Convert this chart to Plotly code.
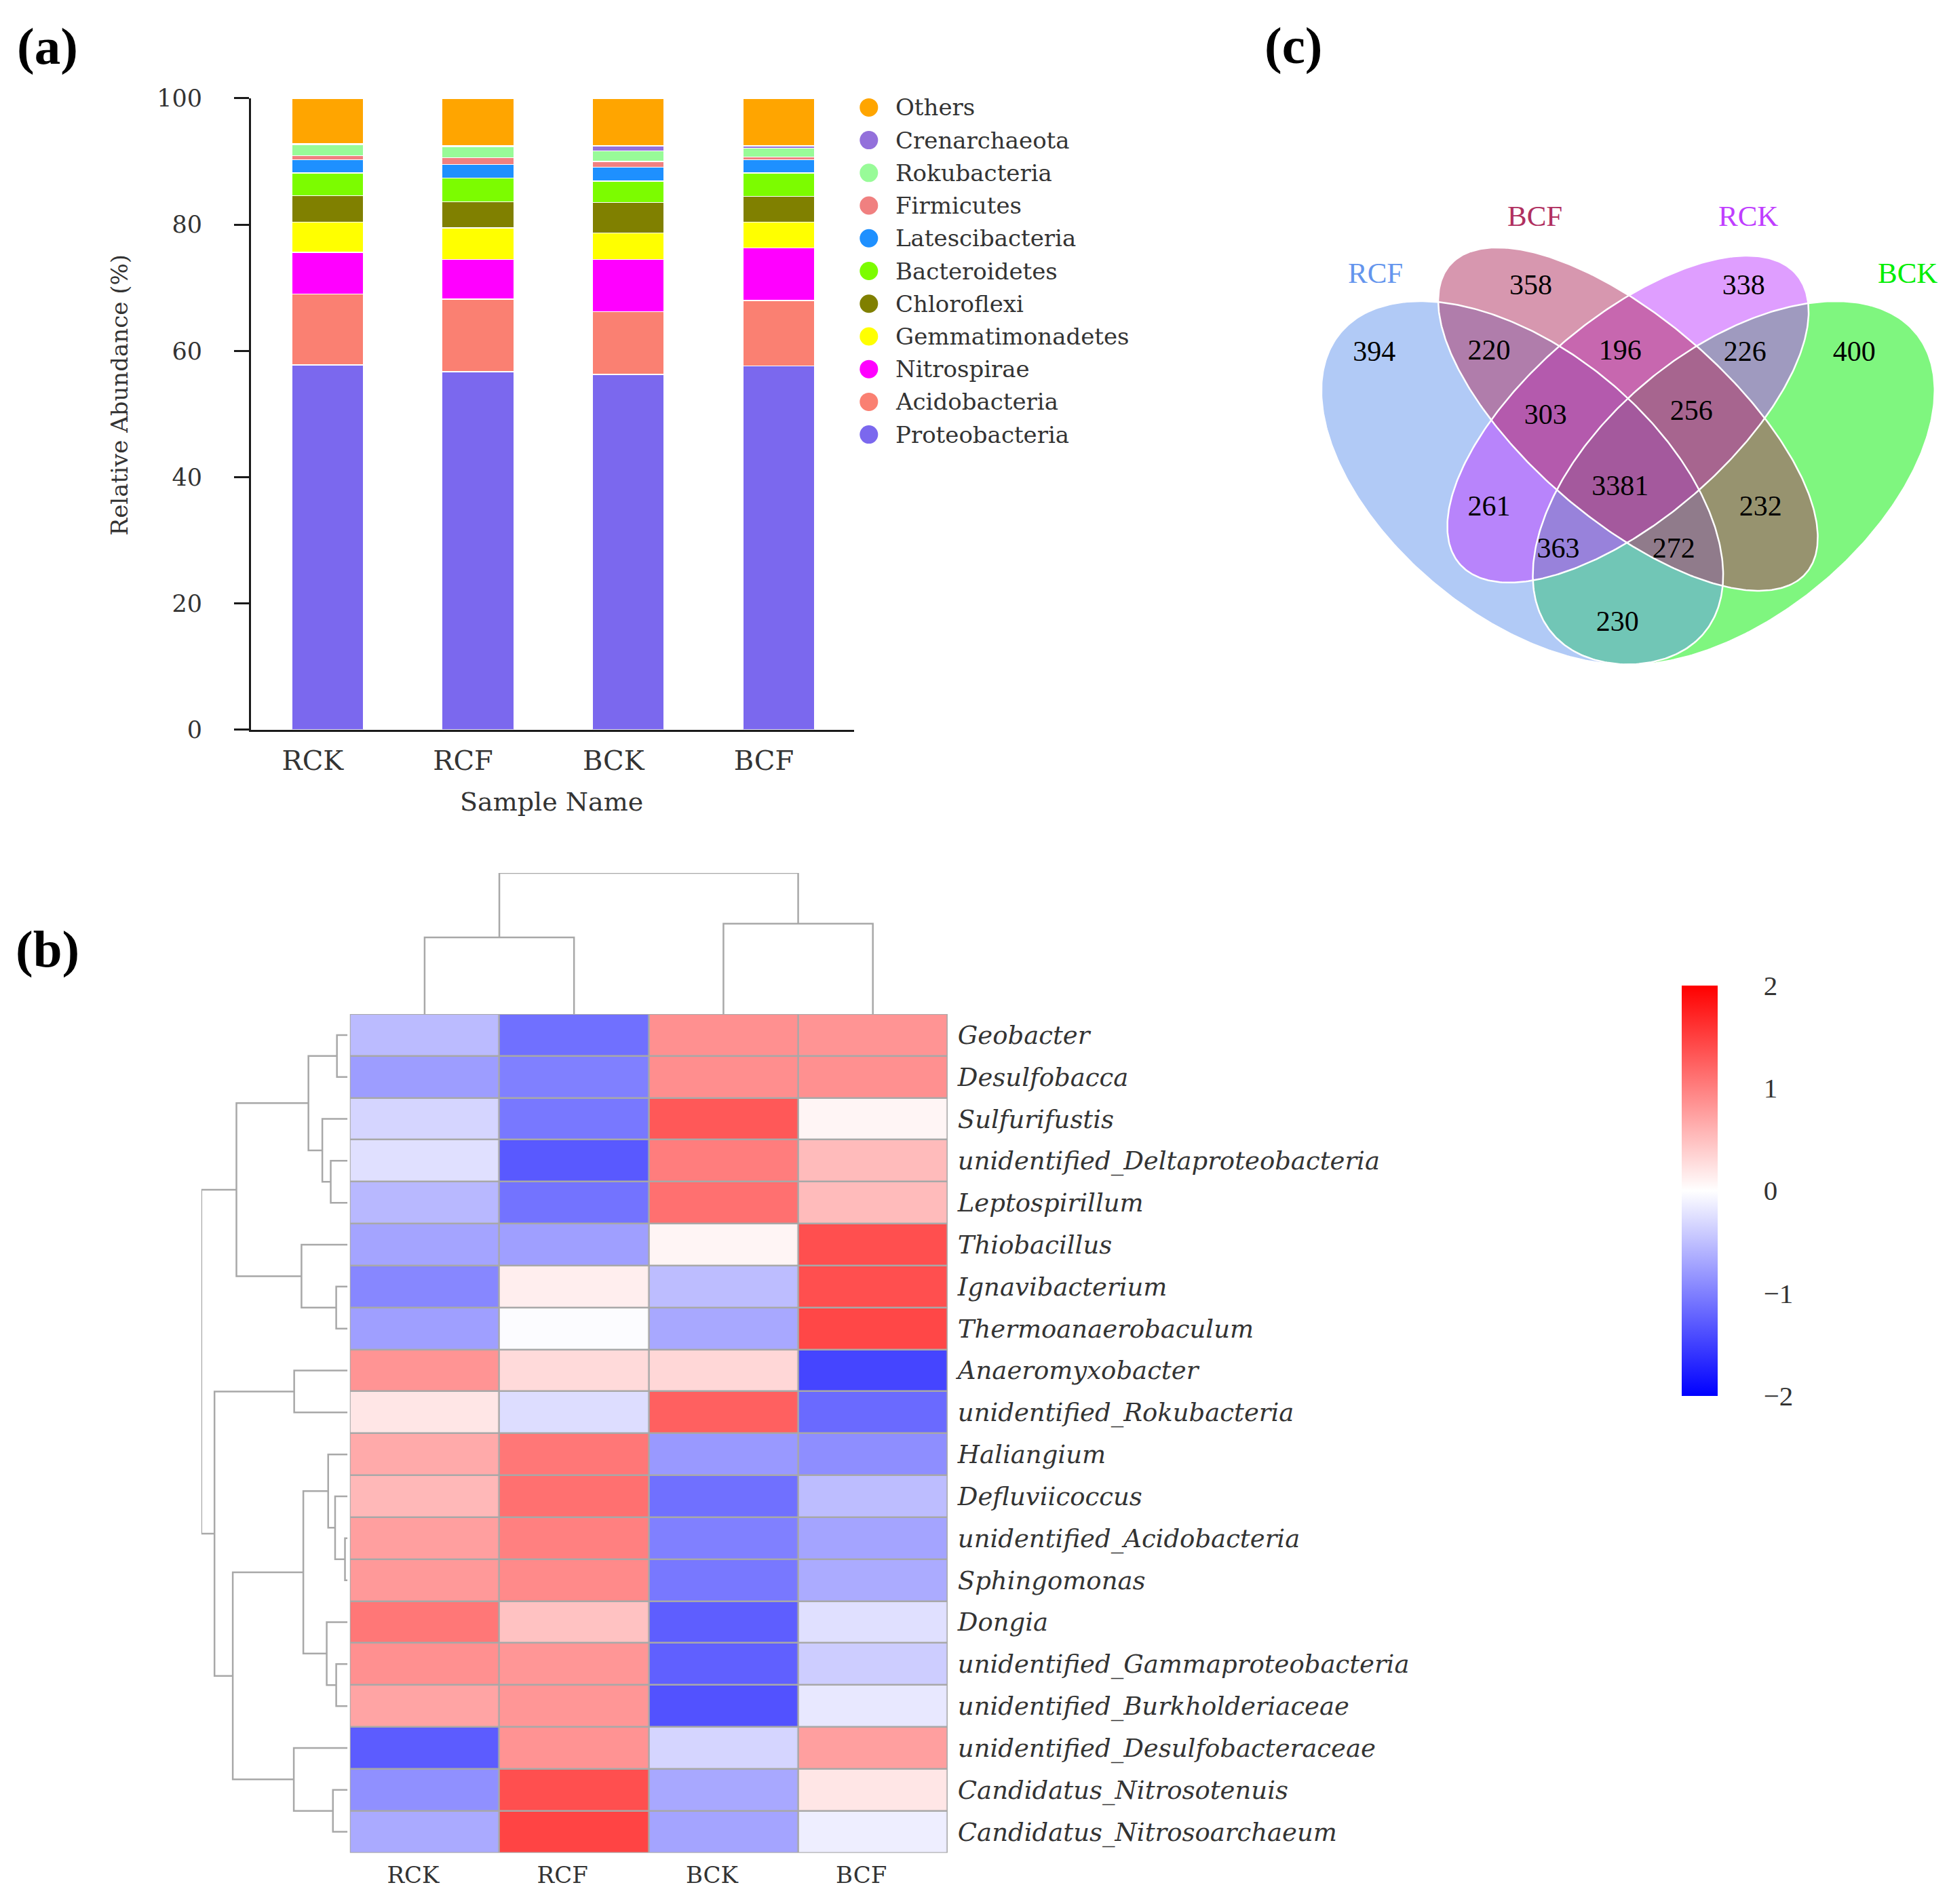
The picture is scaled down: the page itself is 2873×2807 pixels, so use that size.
import numpy as np
import plotly.graph_objects as go

W, H = 2873, 2807


# page-placement compensation (page offset / capture scale measured from round 1)
def px(x):
    return (x - 7.2) / W


def py(y):
    return 1 - (1.0149 * y - 30.1) / H


# ---------------- data: (a) stacked bars ----------------
samples = ["RCK", "RCF", "BCK", "BCF"]
phyla = ["Proteobacteria", "Acidobacteria", "Nitrospirae", "Gemmatimonadetes",
         "Chloroflexi", "Bacteroidetes", "Latescibacteria", "Firmicutes",
         "Rokubacteria", "Crenarchaeota", "Others"]
phylum_colors = ["#7B68EE", "#FA8072", "#FF00FF", "#FFFF00", "#808000", "#7CFC00",
                 "#1E90FF", "#F08080", "#98FB98", "#9370DB", "#FFA500"]
proteobacteria = [57.8, 56.7, 56.3, 57.6]
acidobacteria = [11.2, 11.5, 9.9, 10.4]
nitrospirae = [6.6, 6.3, 8.3, 8.3]
gemmatimonadetes = [4.8, 5.0, 4.2, 4.1]
chloroflexi = [4.2, 4.1, 4.8, 4.1]
bacteroidetes = [3.6, 3.8, 3.4, 3.7]
latescibacteria = [2.1, 2.1, 2.2, 2.1]
firmicutes = [0.6, 1.1, 0.9, 0.4]
rokubacteria = [1.8, 1.7, 1.7, 1.4]
crenarchaeota = [0.1, 0.2, 0.8, 0.4]
others = [7.2, 7.5, 7.5, 7.5]
abundance = [proteobacteria, acidobacteria, nitrospirae, gemmatimonadetes, chloroflexi,
             bacteroidetes, latescibacteria, firmicutes, rokubacteria, crenarchaeota, others]
y_ticks = [0, 20, 40, 60, 80, 100]

# ---------------- data: (b) heatmap ----------------
genera = ["Geobacter", "Desulfobacca", "Sulfurifustis", "unidentified_Deltaproteobacteria",
          "Leptospirillum", "Thiobacillus", "Ignavibacterium", "Thermoanaerobaculum",
          "Anaeromyxobacter", "unidentified_Rokubacteria", "Haliangium", "Defluviicoccus",
          "unidentified_Acidobacteria", "Sphingomonas", "Dongia",
          "unidentified_Gammaproteobacteria", "unidentified_Burkholderiaceae",
          "unidentified_Desulfobacteraceae", "Candidatus_Nitrosotenuis",
          "Candidatus_Nitrosoarchaeum"]
z_RCK = [-0.53, -0.77, -0.33, -0.24, -0.56, -0.71, -0.94, -0.75, 0.84, 0.20,
         0.67, 0.56, 0.75, 0.80, 1.07, 0.87, 0.71, -1.28, -0.87, -0.67]
z_RCF = [-1.12, -1.00, -1.06, -1.30, -1.10, -0.75, 0.13, -0.02, 0.29, -0.27,
         1.07, 1.12, 1.00, 0.92, 0.48, 0.82, 0.82, 0.85, 1.38, 1.47]
z_BCK = [0.87, 0.89, 1.31, 1.02, 1.12, 0.08, -0.52, -0.68, 0.31, 1.25,
         -0.80, -1.12, -1.00, -1.06, -1.26, -1.25, -1.36, -0.33, -0.68, -0.71]
z_BCF = [0.84, 0.87, 0.08, 0.53, 0.53, 1.38, 1.38, 1.44, -1.46, -1.17,
         -0.89, -0.52, -0.71, -0.66, -0.24, -0.39, -0.18, 0.75, 0.20, -0.13]
colorbar_ticks = [-2, -1, 0, 1, 2]

# hierarchical clustering merges (child a, child b, height); ids >= n are earlier merges
row_merges = [(0, 1, 0.29), (3, 4, 0.46), (2, 21, 0.69), (20, 22, 1.07),
              (6, 7, 0.31), (5, 24, 1.26), (23, 25, 3.04), (8, 9, 1.46),
              (12, 13, 0.07), (11, 28, 0.34), (10, 29, 0.53), (15, 16, 0.31),
              (14, 31, 0.57), (30, 32, 1.21), (18, 19, 0.40), (17, 34, 1.47),
              (33, 35, 3.14), (27, 36, 3.64), (26, 37, 4.00)]
col_merges = [(0, 1, 2.17), (2, 3, 2.56), (4, 5, 4.00)]

# ---------------- data: (c) Venn ----------------
venn_sets = ["RCF", "BCF", "RCK", "BCK"]
venn_set_colors = ["#6495ED", "#B03060", "#BF3EFF", "#00EE00"]
venn_regions = ["RCF", "BCF", "RCK", "BCK", "RCF&BCF", "BCF&RCK", "RCK&BCK",
                "RCF&BCF&RCK", "BCF&RCK&BCK", "RCF&BCF&RCK&BCK", "RCF&RCK",
                "BCF&BCK", "RCF&RCK&BCK", "RCF&BCF&BCK", "RCF&BCK"]
venn_counts = [394, 358, 338, 400, 220, 196, 226, 303, 256, 3381, 261, 232, 363, 272, 230]

# ---------------- layout constants ----------------
venn_ellipses = {  # cx, cy, a, b, rotation (deg)
    "RCF": (0.35, 0.47, 0.35, 0.20, 135),
    "BCF": (0.50, 0.57, 0.35, 0.15, 135),
    "RCK": (0.50, 0.57, 0.33, 0.15, 45),
    "BCK": (0.65, 0.47, 0.35, 0.20, 45),
}
venn_draw_order = ["BCK", "RCF", "RCK", "BCF"]
venn_label_pos = [(0.140, 0.673), (0.362, 0.777), (0.664, 0.777), (0.821, 0.673),
                  (0.303, 0.675), (0.489, 0.675), (0.666, 0.673), (0.383, 0.574),
                  (0.590, 0.580), (0.489, 0.462), (0.303, 0.430), (0.688, 0.430),
                  (0.401, 0.364), (0.565, 0.364), (0.485, 0.249)]
venn_cat_pos = [(0.142, 0.799), (0.368, 0.888), (0.671, 0.888), (0.897, 0.799)]

SERIF = "Liberation Serif"
WIDE = "DejaVu Serif"
TXT = "#333333"
AX = "#1a1a1a"
DGRAY = "#A8A8A8"
VX0, VSX = 1879.5, 1039.0     # Venn unit -> pixel (x)
VY0, VSY = 1154.8, 939.5      # Venn unit -> pixel (y)

fig = go.Figure()

# ---------- (a) bars ----------
for name, vals, col in zip(phyla, abundance, phylum_colors):
    fig.add_trace(go.Bar(x=list(range(len(samples))), y=vals, name=name,
                         marker=dict(color=col, line=dict(color="white", width=1.5)),
                         width=0.478, showlegend=False, xaxis="x", yaxis="y",
                         hoverinfo="skip"))

# legend (circles)
leg_names = phyla[::-1]
leg_cols = phylum_colors[::-1]
fig.add_trace(go.Scatter(x=[0.5] * len(leg_names), y=list(range(len(leg_names))),
                         mode="markers", marker=dict(size=27, color=leg_cols, line=dict(width=0)),
                         showlegend=False, xaxis="x4", yaxis="y4", hoverinfo="skip"))

annotations = []
for i, nm in enumerate(leg_names):
    annotations.append(dict(x=px(1317), y=i, xref="paper", yref="y4", text=nm,
                            showarrow=False, xanchor="left", yanchor="middle",
                            font=dict(family=WIDE, size=34, color=TXT)))

annotations.append(dict(x=px(175), y=py(584), xref="paper", yref="paper",
                        text="Relative Abundance (%)", textangle=-90, showarrow=False,
                        xanchor="center", yanchor="middle",
                        font=dict(family=WIDE, size=34, color=TXT)))
annotations.append(dict(x=px(812), y=py(1183), xref="paper", yref="paper",
                        text="Sample Name", showarrow=False, xanchor="center", yanchor="middle",
                        font=dict(family=WIDE, size=38, color=TXT)))

# ---------- (b) heatmap ----------
zmat = np.array([z_RCK, z_RCF, z_BCK, z_BCF]).T
fig.add_trace(go.Heatmap(
    z=zmat, x=list(range(len(samples))), y=list(range(len(genera))),
    colorscale=[[0, "#0000FF"], [0.5, "#FFFFFF"], [1, "#FF0000"]],
    zmin=-2, zmax=2, xgap=2.5, ygap=2.5, xaxis="x2", yaxis="y2", hoverinfo="skip",
    colorbar=dict(x=px(2478), xanchor="left", y=py(1756), yanchor="middle",
                  len=605, lenmode="pixels", thickness=53, thicknessmode="pixels",
                  xpad=0, ypad=0,
                  outlinewidth=0, tickvals=colorbar_ticks, ticks="outside", ticklen=60,
                  tickcolor="rgba(0,0,0,0)",
                  tickfont=dict(family=SERIF, size=41, color=TXT))))


def dendro(merges, n):
    pos = {i: float(i) for i in range(n)}
    hgt = {i: 0.0 for i in range(n)}
    p, h = [], []
    for k, (a, b, hh) in enumerate(merges):
        pa, pb = pos[a], pos[b]
        p += [pa, pa, pb, pb, None]
        h += [hgt[a], hh, hh, hgt[b], None]
        pos[n + k] = (pa + pb) / 2
        hgt[n + k] = hh
    return p, h


rp, rh = dendro(row_merges, len(genera))
fig.add_trace(go.Scatter(x=rh, y=rp, mode="lines", line=dict(color=DGRAY, width=2.5),
                         showlegend=False, xaxis="x5", yaxis="y5", hoverinfo="skip"))
cp, ch = dendro(col_merges, len(samples))
fig.add_trace(go.Scatter(x=cp, y=ch, mode="lines", line=dict(color=DGRAY, width=2.5),
                         showlegend=False, xaxis="x6", yaxis="y6", hoverinfo="skip"))


# ---------- (c) Venn ----------
def ellipse(cx, cy, a, b, rot, n=400):
    t = np.linspace(0, 2 * np.pi, n)
    th = np.deg2rad(rot)
    x = cx + a * np.cos(t) * np.cos(th) - b * np.sin(t) * np.sin(th)
    y = cy + a * np.cos(t) * np.sin(th) + b * np.sin(t) * np.cos(th)
    return x, y


def rgba(hexc, a):
    hexc = hexc.lstrip("#")
    r, g, b = int(hexc[0:2], 16), int(hexc[2:4], 16), int(hexc[4:6], 16)
    return f"rgba({r},{g},{b},{a})"


set_color = dict(zip(venn_sets, venn_set_colors))
for s in venn_draw_order:
    ex, ey = ellipse(*venn_ellipses[s])
    fig.add_trace(go.Scatter(x=ex, y=ey, mode="lines", fill="toself",
                             fillcolor=rgba(set_color[s], 0.5), line=dict(width=0),
                             showlegend=False, xaxis="x3", yaxis="y3", hoverinfo="skip"))
for s in venn_draw_order:
    ex, ey = ellipse(*venn_ellipses[s])
    fig.add_trace(go.Scatter(x=ex, y=ey, mode="lines", line=dict(color="white", width=2.5),
                             showlegend=False, xaxis="x3", yaxis="y3", hoverinfo="skip"))
fig.add_trace(go.Scatter(x=[p[0] for p in venn_label_pos], y=[p[1] for p in venn_label_pos],
                         mode="text", text=[str(c) for c in venn_counts],
                         textfont=dict(family=SERIF, size=42, color="black"),
                         textposition="middle center", showlegend=False,
                         xaxis="x3", yaxis="y3", hoverinfo="skip"))
for (cx, cy), nm, col in zip(venn_cat_pos, venn_sets, venn_set_colors):
    annotations.append(dict(x=cx, y=cy, xref="x3", yref="y3", text=nm, showarrow=False,
                            xanchor="center", yanchor="middle",
                            font=dict(family=SERIF, size=43, color=col)))

# panel labels
for lab, x0, y0 in [("(a)", 69, 70), ("(b)", 69, 1400), ("(c)", 1906, 69)]:
    annotations.append(dict(x=px(x0), y=py(y0), xref="paper", yref="paper", text=lab,
                            showarrow=False, xanchor="center", yanchor="middle",
                            font=dict(family=SERIF, size=77, color="black", weight="bold")))

hidden = dict(visible=False, showgrid=False, zeroline=False)

fig.update_layout(
    width=W, height=H, autosize=False,
    margin=dict(l=0, r=0, t=0, b=0),
    paper_bgcolor="white", plot_bgcolor="white",
    barmode="stack", showlegend=False,
    font=dict(family=SERIF, color=TXT),
    xaxis=dict(domain=[px(369), px(1258)], range=[-0.51, 3.5], anchor="y",
               tickvals=list(range(len(samples))), ticktext=samples, ticks="",
               showline=True, linecolor=AX, linewidth=2.5, showgrid=False, zeroline=False,
               tickfont=dict(family=WIDE, size=40, color=TXT), ticklabelshift=-22,
               ticklabelstandoff=8),
    yaxis=dict(domain=[py(1077), py(146.6)], range=[0, 100], anchor="x",
               tickvals=y_ticks, ticks="outside", ticklen=22, tickwidth=2.5, tickcolor=AX,
               showline=True, linecolor=AX, linewidth=2.5, showgrid=False, zeroline=False,
               tickfont=dict(family=WIDE, size=35, color=TXT), ticklabelstandoff=40),
    xaxis2=dict(domain=[px(515), px(1396)], range=[-0.5, 3.5], anchor="y2",
                tickvals=list(range(len(samples))), ticktext=samples, ticks="",
                showline=False, showgrid=False, zeroline=False,
                tickfont=dict(family=WIDE, size=34, color=TXT), ticklabelshift=-17,
                ticklabelstandoff=9),
    yaxis2=dict(domain=[py(2732), py(1496)], range=[len(genera) - 0.5, -0.5], anchor="x2",
                side="right", tickvals=list(range(len(genera))), ticktext=genera, ticks="",
                showline=False, showgrid=False, zeroline=False,
                tickfont=dict(family=WIDE, size=37, color=TXT, style="italic"),
                ticklabelstandoff=14),
    xaxis3=dict(domain=[px(VX0), px(VX0 + 0.95 * VSX)], range=[0, 0.95], anchor="y3", **hidden),
    yaxis3=dict(domain=[py(VY0 - 0.15 * VSY), py(VY0 - 0.95 * VSY)], range=[0.15, 0.95],
                anchor="x3", **hidden),
    xaxis4=dict(domain=[px(1262), px(1298)], range=[0, 1], anchor="y4", **hidden),
    yaxis4=dict(domain=[py(160 + 48.2 * 10.5), py(160 - 48.2 * 0.5)], range=[10.5, -0.5],
                anchor="x4", **hidden),
    xaxis5=dict(domain=[px(296), px(511.5)], range=[4.0, 0], anchor="y5", **hidden),
    yaxis5=dict(domain=[py(2732), py(1496)], range=[len(genera) - 0.5, -0.5], anchor="x5", **hidden),
    xaxis6=dict(domain=[px(515), px(1396)], range=[-0.5, 3.5], anchor="y6", **hidden),
    yaxis6=dict(domain=[py(1496), py(1288)], range=[0, 4.0], anchor="x6", **hidden),
    annotations=annotations,
    shapes=[dict(type="rect", xref="x2", yref="y2", x0=-0.5, x1=3.5, y0=-0.5,
                 y1=len(genera) - 0.5, fillcolor="#A8A8A8", line=dict(color="#A8A8A8", width=2),
                 layer="below")],
)

fig.write_html("out.html")
